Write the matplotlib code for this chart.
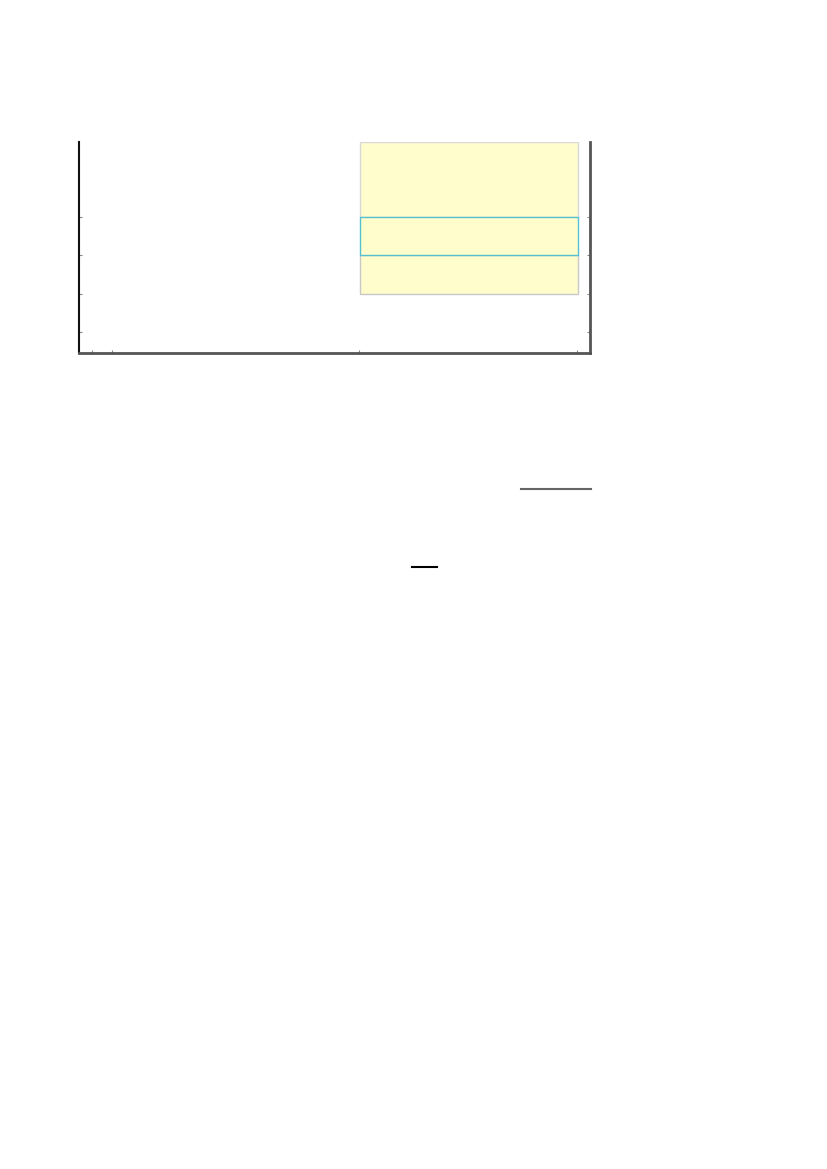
import matplotlib
matplotlib.use("Agg")
import matplotlib.pyplot as plt
from matplotlib.lines import Line2D

# ---- data ----
x_ticks = [2.5, 6.5, 54.8, 97.5]
y_ticks = [0, 1, 2, 3]
bar_left = 55.0
bar_width = 42.65
seg_bottoms = [1, 3, 2]
seg_heights = [1, 1.96, 1]
seg_edges = ['#c8c8c8', '#d8d8d8', '#55c0d0']
bar_color = '#fffdcc'

W, H = 827, 1169
fig = plt.figure(figsize=(W / 100, H / 100), dpi=100)
ax = fig.add_axes([79 / W, (H - 353) / H, (590 - 79) / W, (353 - 142) / H])

for b, h, ec in zip(seg_bottoms, seg_heights, seg_edges):
    ax.bar(bar_left, h, width=bar_width, bottom=b, align='edge',
           color=bar_color, edgecolor=ec, linewidth=1.0, zorder=2)

ax.set_xlim(0, 100)
ax.set_ylim(-0.55, 4.96)
ax.set_xticks(x_ticks)
ax.set_yticks(y_ticks)
ax.tick_params(direction='in', length=2, width=0.8, color='#888888',
               labelleft=False, labelbottom=False, right=True)
ax.spines['top'].set_visible(False)
ax.spines['left'].set_color('#111111')
ax.spines['left'].set_linewidth(1.5)
ax.spines['right'].set_color('#555555')
ax.spines['right'].set_linewidth(2)
ax.spines['bottom'].set_color('#555555')
ax.spines['bottom'].set_linewidth(2)

# short rule lines below the chart
fig.add_artist(Line2D([521 / W, 591 / W], [1 - 488.5 / H, 1 - 488.5 / H],
                      color='#666666', lw=1.5))
fig.add_artist(Line2D([412 / W, 437 / W], [1 - 567 / H, 1 - 567 / H],
                      color='#000000', lw=1.5))

fig.savefig('out.png', dpi=100, facecolor='white')
